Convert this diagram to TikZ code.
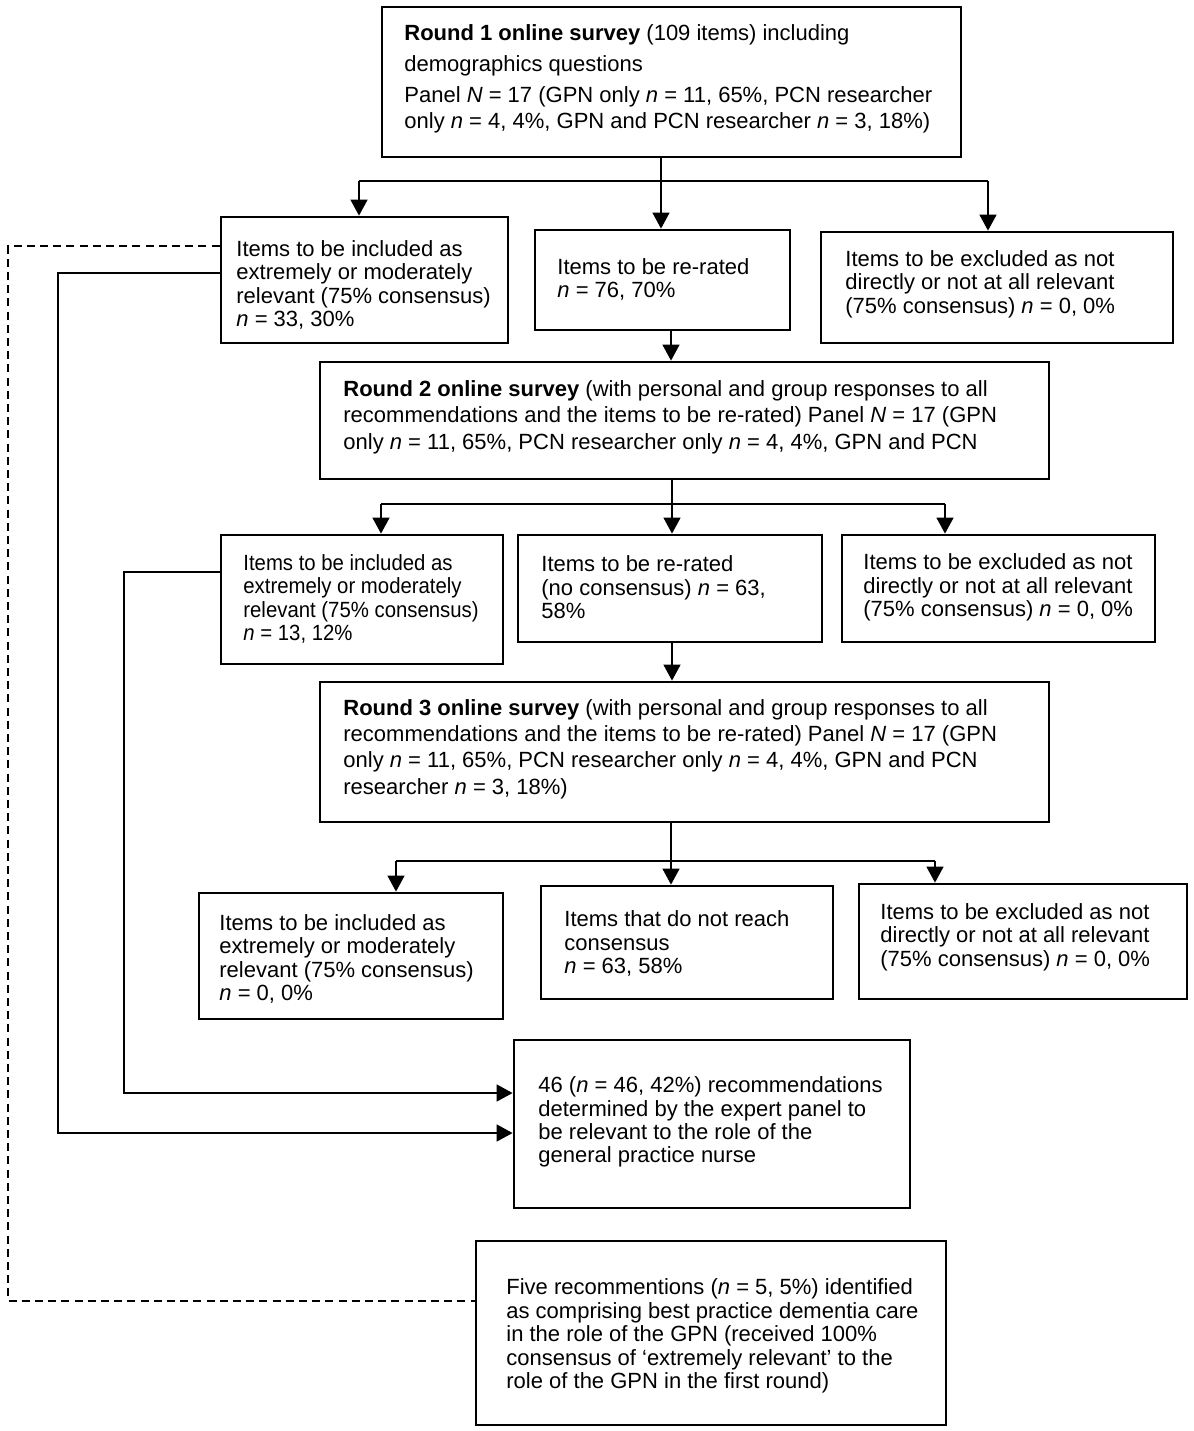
\documentclass[tikz,border=0pt]{standalone}
\usepackage{fontspec}
\setmainfont{Liberation Sans}
\newfontfamily\narrowsans{Liberation Sans}[FakeStretch=0.925]
\usetikzlibrary{arrows.meta,fit}
\tikzset{
  box/.style={draw, line width=1.4pt, inner sep=0pt, rectangle},
  txt/.style={anchor=west, inner sep=0pt, align=left, font=\fontsize{11}{11.7}\selectfont},
  rtxt/.style={txt, font=\fontsize{11}{13.2}\selectfont},
  conn/.style={line width=0.7pt},
  arr/.style={conn, -{Triangle[length=8pt,width=8.5pt]}},
  dashline/.style={line width=1pt, dash pattern=on 4pt off 2.6pt}
}
\begin{document}
\begin{tikzpicture}[x=0.5pt,y=-0.5pt]
\useasboundingbox (0,0) rectangle (1194,1431);

% boxes
\node[box, fit={(382,7) (961,157)}] (r1) {};
\node[box, fit={(221,217) (508,343)}] (a1) {};
\node[box, fit={(535,230) (790,330)}] (b1) {};
\node[box, fit={(821,232) (1173,343)}] (c1) {};
\node[box, fit={(320,362) (1049,479)}] (r2) {};
\node[box, fit={(221,535) (503,664)}] (a2) {};
\node[box, fit={(518,535) (822,642)}] (b2) {};
\node[box, fit={(842,535) (1155,642)}] (c2) {};
\node[box, fit={(320,682) (1049,822)}] (r3) {};
\node[box, fit={(199,893) (503,1019)}] (a3) {};
\node[box, fit={(541,886) (833,999)}] (b3) {};
\node[box, fit={(859,884) (1187,999)}] (c3) {};
\node[box, fit={(514,1040) (910,1208)}] (f) {};
\node[box, fit={(476,1241) (946,1425)}] (g) {};

% texts
\node[txt] (r1t) at (404,79) {\textbf{Round 1 online survey} (109 items) including\\[3.8pt]
demographics questions\\[3.8pt]
Panel \textit{N} = 17 (GPN only \textit{n} = 11, 65\%, PCN researcher\\[1.3pt]
only \textit{n} = 4, 4\%, GPN and PCN researcher \textit{n} = 3, 18\%)};
\node[txt] (a1t) at (236,285) {Items to be included as\\extremely or moderately\\relevant (75\% consensus)\\\textit{n} = 33, 30\%};
\node[txt] (b1t) at (557,279.5) {Items to be re-rated\\\textit{n} = 76, 70\%};
\node[txt] (c1t) at (845,284) {Items to be excluded as not\\directly or not at all relevant\\(75\% consensus) \textit{n} = 0, 0\%};
\node[rtxt] (r2t) at (343,417) {\textbf{Round 2 online survey} (with personal and group responses to all\\
recommendations and the items to be re-rated) Panel \textit{N} = 17 (GPN\\
only \textit{n} = 11, 65\%, PCN researcher only \textit{n} = 4, 4\%, GPN and PCN};
\node[txt, font=\narrowsans\fontsize{11}{11.7}\selectfont] (a2t) at (243,599) {Items to be included as\\extremely or moderately\\relevant (75\% consensus)\\\textit{n} = 13, 12\%};
\node[txt] (b2t) at (541,587.5) {Items to be re-rated\\(no consensus) \textit{n} = 63,\\58\%};
\node[txt] (c2t) at (863,587.5) {Items to be excluded as not\\directly or not at all relevant\\(75\% consensus) \textit{n} = 0, 0\%};
\node[rtxt] (r3t) at (343,749) {\textbf{Round 3 online survey} (with personal and group responses to all\\
recommendations and the items to be re-rated) Panel \textit{N} = 17 (GPN\\
only \textit{n} = 11, 65\%, PCN researcher only \textit{n} = 4, 4\%, GPN and PCN\\
researcher \textit{n} = 3, 18\%)};
\node[txt] (a3t) at (219,959) {Items to be included as\\extremely or moderately\\relevant (75\% consensus)\\\textit{n} = 0, 0\%};
\node[txt] (b3t) at (564,943.5) {Items that do not reach\\consensus\\\textit{n} = 63, 58\%};
\node[txt] (c3t) at (880,937) {Items to be excluded as not\\directly or not at all relevant\\(75\% consensus) \textit{n} = 0, 0\%};
\node[txt] (ft) at (538,1122) {46 (\textit{n} = 46, 42\%) recommendations\\determined by the expert panel to\\be relevant to the role of the\\general practice nurse};
\node[txt] (gt) at (506,1336) {Five recommentions (\textit{n} = 5, 5\%) identified\\as comprising best practice dementia care\\in the role of the GPN (received 100\%\\consensus of ‘extremely relevant’ to the\\role of the GPN in the first round)};

% split 1
\coordinate (h1l) at (359,181);
\coordinate (h1m) at (661,181);
\coordinate (h1r) at (988,181);
\draw[conn] (h1m |- r1.south) -- (h1m);
\draw[conn] (h1l) -- (h1r);
\draw[arr] (h1l) -- (h1l |- a1.north);
\draw[arr] (h1m) -- (h1m |- b1.north);
\draw[arr] (h1r) -- (h1r |- c1.north);
\coordinate (v1) at (671,346);
\draw[arr] (v1 |- b1.south) -- (v1 |- r2.north);

% split 2
\coordinate (h2l) at (381,504);
\coordinate (h2m) at (672,504);
\coordinate (h2r) at (945,504);
\draw[conn] (h2m |- r2.south) -- (h2m);
\draw[conn] (h2l) -- (h2r);
\draw[arr] (h2l) -- (h2l |- a2.north);
\draw[arr] (h2m) -- (h2m |- b2.north);
\draw[arr] (h2r) -- (h2r |- c2.north);
\coordinate (v2) at (672,660);
\draw[arr] (v2 |- b2.south) -- (v2 |- r3.north);

% split 3
\coordinate (h3l) at (396,861);
\coordinate (h3m) at (671,861);
\coordinate (h3r) at (935,861);
\draw[conn] (h3m |- r3.south) -- (h3m);
\draw[conn] (h3l) -- (h3r);
\draw[arr] (h3l) -- (h3l |- a3.north);
\draw[arr] (h3m) -- (h3m |- b3.north);
\draw[arr] (h3r) -- (h3r |- c3.north);

% left feedback lines
\coordinate (k1) at (58,273);
\coordinate (k1b) at (58,1133);
\draw[arr] (a1.west |- k1) -- (k1) -- (k1b) -- (f.west |- k1b);
\coordinate (k2) at (124,572);
\coordinate (k2b) at (124,1093);
\draw[arr] (a2.west |- k2) -- (k2) -- (k2b) -- (f.west |- k2b);
\coordinate (d1) at (8,246);
\coordinate (d2) at (8,1301);
\draw[dashline] (a1.west |- d1) -- (d1) -- (d2) -- (g.west |- d2);
\end{tikzpicture}
\end{document}
